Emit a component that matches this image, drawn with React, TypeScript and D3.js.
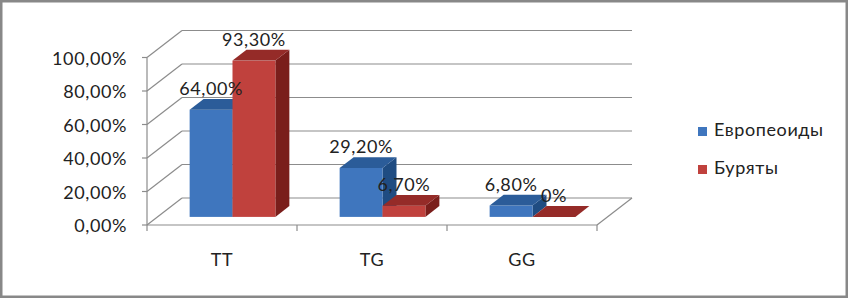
import React from "react";
import * as d3 from "d3";

const categories = ["TT", "TG", "GG"];
const seriesNames = ["Европеоиды", "Буряты"];
const europeoids = [0.64, 0.292, 0.068];
const buryats = [0.933, 0.067, 0];
const valueLabels = [
  ["64,00%", "29,20%", "6,80%"],
  ["93,30%", "6,70%", "0%"],
];
const yTicks = [0, 0.2, 0.4, 0.6, 0.8, 1.0];
const yTickLabels = ["0,00%", "20,00%", "40,00%", "60,00%", "80,00%", "100,00%"];

const W = 848;
const H = 298;
const DX = 35;
const DY = 27;
const F0 = 0.3;
const F1 = 0.7;
const FONT = "Lato, 'Noto Sans', sans-serif";
const FS = 18;
const LS = 0.6;

const colors = [
  { front: "#3F76BE", top: "#2B5C99", side: "#1F4C82" },
  { front: "#C0413D", top: "#952B28", side: "#7A1E1B" },
];

export default function App() {
  const x = d3.scaleBand<string>().domain(categories).range([147, 597]).paddingInner(0).paddingOuter(0);
  const inner = d3
    .scaleBand<string>()
    .domain(seriesNames)
    .range([0, x.bandwidth()])
    .paddingInner(0)
    .paddingOuter(0.75);
  const y = d3.scaleLinear().domain([0, 1]).range([225, 57.5]);
  const series = [europeoids, buryats];
  const [x0, x1] = x.range();
  const base = y(0);

  const bars: React.ReactNode[] = [];
  const labels: React.ReactNode[] = [];
  categories.forEach((c, ci) => {
    seriesNames.forEach((s, si) => {
      const v = series[si][ci];
      const bx = (x(c) as number) + (inner(s) as number);
      const bw = inner.bandwidth();
      const yt = y(v);
      const fx = F0 * DX;
      const fy = F0 * DY;
      const dx = (F1 - F0) * DX;
      const dy = (F1 - F0) * DY;
      const L = bx + fx;
      const R = bx + bw + fx;
      const T = yt - fy;
      const B = base - fy;
      const col = colors[si];
      bars.push(
        <g key={`${c}-${s}`}>
          <path d={`M${R},${B}L${R + dx},${B - dy}L${R + dx},${T - dy}L${R},${T}Z`} fill={col.side} />
          <rect x={L} y={T} width={bw} height={Math.max(0, B - T)} fill={col.front} />
          <path d={`M${L},${T}L${L + dx},${T - dy}L${R + dx},${T - dy}L${R},${T}Z`} fill={col.top} />
        </g>
      );
      labels.push(
        <text
          key={`l-${c}-${s}`}
          x={(L + R) / 2}
          y={T - dy - 4}
          textAnchor="middle"
          fontFamily={FONT}
          fontSize={FS}
          letterSpacing={LS}
          fill="#222"
        >
          {valueLabels[si][ci]}
        </text>
      );
    });
  });

  const grid = "#8c8c8c";

  return (
    <svg width={W} height={H} style={{ position: "absolute", left: 0, top: 0, background: "#fff" }}>
      <rect x={1.25} y={1.25} width={W - 2.5} height={H - 2.5} fill="#fff" stroke="#888" strokeWidth={2.5} />
      {yTicks.map((t, i) => (
        <g key={`g${i}`} stroke={grid} strokeWidth={1.2} fill="none">
          <line x1={x0} y1={y(t)} x2={x0 + DX} y2={y(t) - DY} />
          <line x1={x0 + DX} y1={y(t) - DY} x2={x1 + DX} y2={y(t) - DY} />
        </g>
      ))}
      <line x1={x1} y1={base} x2={x1 + DX} y2={base - DY} stroke={grid} strokeWidth={1.2} />
      <line x1={x0} y1={y(1)} x2={x0} y2={base} stroke={grid} strokeWidth={1.2} />
      <line x1={x0} y1={base} x2={x1} y2={base} stroke={grid} strokeWidth={1.2} />
      {yTicks.map((t, i) => (
        <line key={`yt${i}`} x1={x0 - 5} y1={y(t)} x2={x0} y2={y(t)} stroke={grid} strokeWidth={1.2} />
      ))}
      {[...categories.map((c) => x(c) as number), x1].map((px, i) => (
        <line key={`xt${i}`} x1={px} y1={base} x2={px} y2={base + 6} stroke={grid} strokeWidth={1.2} />
      ))}
      {yTickLabels.map((lbl, i) => (
        <text
          key={`yl${i}`}
          x={127}
          y={y(yTicks[i]) + 7}
          textAnchor="end"
          fontFamily={FONT}
          fontSize={FS}
          letterSpacing={LS}
          fill="#222"
        >
          {lbl}
        </text>
      ))}
      {categories.map((c) => (
        <text
          key={`xl${c}`}
          x={(x(c) as number) + x.bandwidth() / 2}
          y={266}
          textAnchor="middle"
          fontFamily={FONT}
          fontSize={FS}
          letterSpacing={LS}
          fill="#222"
        >
          {c}
        </text>
      ))}
      {bars}
      {labels}
      {seriesNames.map((s, i) => (
        <g key={`lg${s}`} transform={`translate(698, ${127 + i * 38})`}>
          <rect x={0} y={0} width={9} height={9} fill={colors[i].front} />
          <text x={16} y={9} fontFamily={FONT} fontSize={FS} letterSpacing={LS} fill="#222">
            {s}
          </text>
        </g>
      ))}
    </svg>
  );
}
